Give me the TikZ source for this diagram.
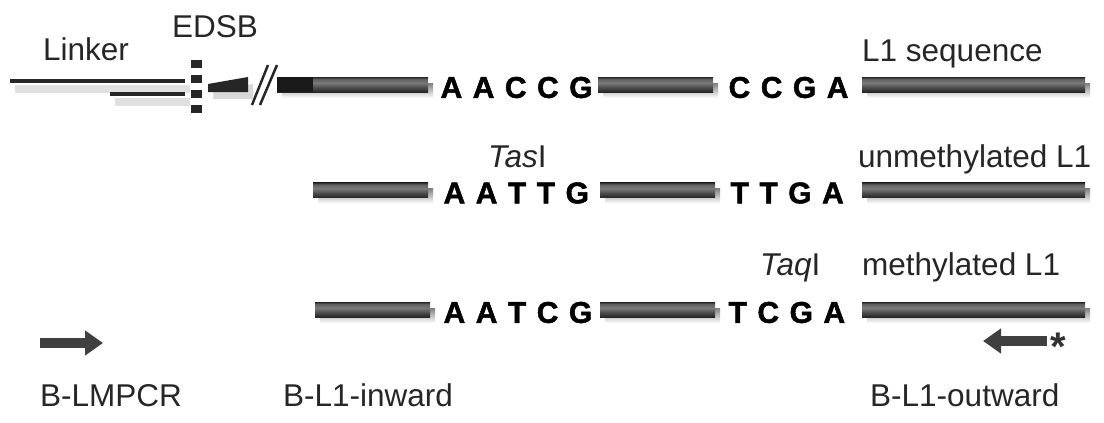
\documentclass[tikz,border=0pt]{standalone}
\usepackage{fontspec}
\setmainfont{Liberation Sans}
\newfontfamily\seqfont{Liberation Sans}[BoldFeatures={FakeBold=1.6}]
\usepackage{tikz}
\usetikzlibrary{positioning,arrows.meta,shadows}
\pgfdeclareverticalshading{barshade}{100bp}{color(0bp)=(black!85); color(25bp)=(black!85);
  color(38bp)=(black!72); color(55bp)=(black!52); color(68bp)=(black!62); color(75bp)=(black!85);
  color(100bp)=(black!85)}
\newcommand\sk{\kern10.5pt}
\begin{document}
\begin{tikzpicture}[x=1pt,y=-1pt,
  lbl/.style={font=\fontsize{31.5}{36}\selectfont,inner sep=0pt,anchor=base west,black!85},
  seqtxt/.style={font=\fontsize{30}{34}\seqfont\bfseries,inner sep=0pt,anchor=west,yshift=-3pt},
  dnabar/.style={rectangle,inner sep=0pt,minimum height=15pt,anchor=west,shading=barshade,
    general shadow={shadow xshift=5pt,shadow yshift=-6pt,top color=black!50,bottom color=white}},
  linker/.style={line width=4.5pt,black!85,
    preaction={draw=black!12,line width=8pt,transform canvas={xshift=5pt,yshift=-8pt}}},
  edsbcut/.style={line width=11pt,black!85,dash pattern=on 8pt off 7pt},
  primer/.style={line width=10pt,black!75,-{Triangle[length=18pt,width=24pt]}}
]
\useasboundingbox[fill=white] (0,0) rectangle (1104,423);
% linker and break site
\draw[linker] (10,81) -- (185,81);
\draw[linker] (110,94) -- (185,94);
\draw[edsbcut] (196.5,60) -- (196.5,116);
\fill[black!85,preaction={fill=black!15,transform canvas={xshift=5pt,yshift=-7pt}}]
  (208,84) -- (248,77) -- (248,92) -- (208,92) -- cycle;
\draw[line width=2.5pt,black!85] (252,105) -- (268,65);
\draw[line width=2.5pt,black!85] (260,105) -- (277,65);
% row 1: L1 sequence
\node[dnabar,minimum width=151pt] (r1a) at (277,84.5) {};
\fill[black!90] (r1a.north west) rectangle ([xshift=36pt]r1a.south west);
\node[seqtxt,right=12pt of r1a] (s1a) {A\sk A\sk C\sk C\sk G};
\node[dnabar,minimum width=115pt] (r1b) at (598,84.5) {};
\node[seqtxt,right=15pt of r1b] (s1b) {C\sk C\sk G\sk A};
\node[dnabar,minimum width=223pt] (r1c) at (862,84.5) {};
% row 2: unmethylated
\node[dnabar,minimum width=115pt] (r2a) at (313,190) {};
\node[seqtxt,right=15pt of r2a] (s2a) {A\sk A\sk T\sk T\sk G};
\node[dnabar,minimum width=115pt] (r2b) at (600,190) {};
\node[seqtxt,right=15pt of r2b] (s2b) {T\sk T\sk G\sk A};
\node[dnabar,minimum width=223pt] (r2c) at (862,190) {};
% row 3: methylated
\node[dnabar,minimum width=115pt] (r3a) at (315,309.5) {};
\node[seqtxt,right=13pt of r3a] (s3a) {A\sk A\sk T\sk C\sk G};
\node[dnabar,minimum width=115pt] (r3b) at (600,309.5) {};
\node[seqtxt,right=13pt of r3b] (s3b) {T\sk C\sk G\sk A};
\node[dnabar,minimum width=223pt] (r3c) at (862,309.5) {};
% labels
\node[lbl] (lnk) at (43,60) {Linker};
\node[lbl] (edsb) at (172,37) {EDSB};
\node[lbl] (l1seq) at (862,61) {L1 sequence};
\node[lbl] (tas) at (488,167) {\textit{Tas}I};
\node[lbl] (unm) at (858,167) {unmethylated L1};
\node[lbl] (taq) at (760,275) {\textit{Taq}I};
\node[lbl] (met) at (862,275) {methylated L1};
% primers
\coordinate (lmS) at (40,343);
\coordinate (lmE) at (103,343);
\draw[primer] (lmS) -- (lmE);
\coordinate (outS) at (1047,341);
\coordinate (outE) at (983,341);
\draw[primer] (outS) -- (outE);
\node[font=\fontsize{40}{40}\selectfont\bfseries,inner sep=0pt,anchor=base,black!80] (ast) at (1058,360) {*};
\node[lbl] (plm) at (40,406) {B-LMPCR};
\node[lbl] (pin) at (283,406) {B-L1-inward};
\node[lbl] (pout) at (870,406) {B-L1-outward};
\end{tikzpicture}
\end{document}
